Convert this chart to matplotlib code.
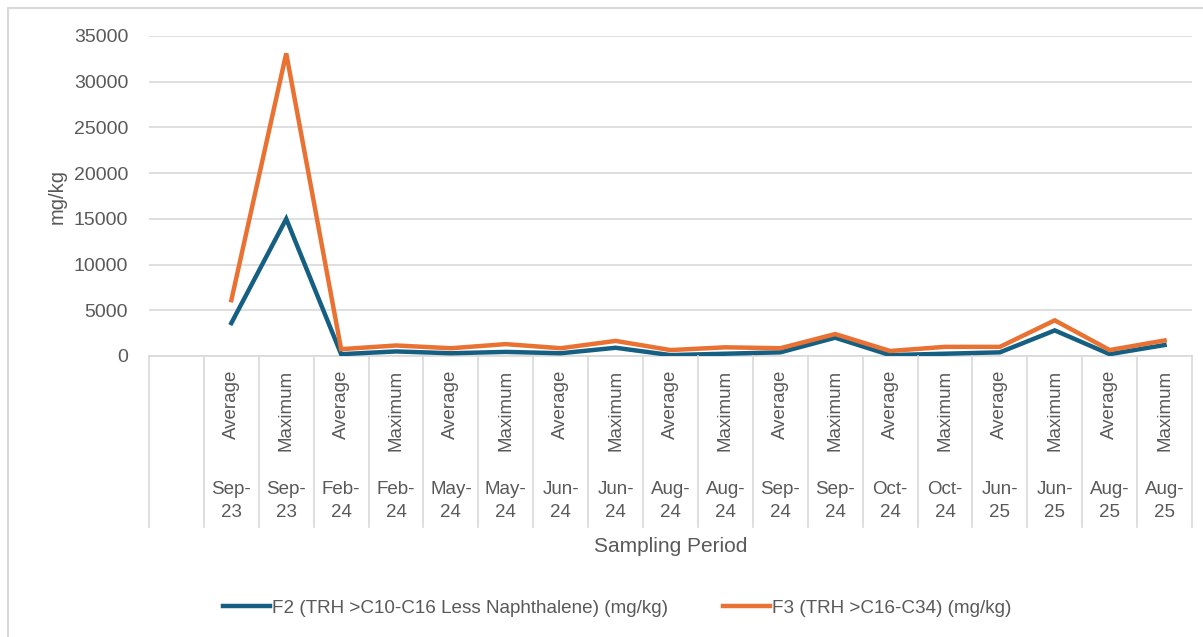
import matplotlib
matplotlib.use("Agg")
import matplotlib.pyplot as plt
from matplotlib.transforms import blended_transform_factory
from matplotlib.lines import Line2D
from matplotlib.patches import Rectangle

plt.rcParams['font.family'] = ['Liberation Sans', 'DejaVu Sans']

periods = ["", "Sep-\n23", "Sep-\n23", "Feb-\n24", "Feb-\n24", "May-\n24", "May-\n24",
           "Jun-\n24", "Jun-\n24", "Aug-\n24", "Aug-\n24", "Sep-\n24", "Sep-\n24",
           "Oct-\n24", "Oct-\n24", "Jun-\n25", "Jun-\n25", "Aug-\n25", "Aug-\n25"]
stats = ["", "Average", "Maximum", "Average", "Maximum", "Average", "Maximum",
         "Average", "Maximum", "Average", "Maximum", "Average", "Maximum",
         "Average", "Maximum", "Average", "Maximum", "Average", "Maximum"]

f2_values = [None, 3600, 15000, 200, 500, 300, 450, 300, 900, 100, 250,
             400, 2000, 100, 250, 400, 2800, 200, 1200]
f3_values = [None, 6100, 33100, 750, 1150, 850, 1300, 850, 1650, 650, 950,
             850, 2400, 550, 1000, 1000, 3900, 650, 1700]

f2_label = "F2 (TRH >C10-C16 Less Naphthalene) (mg/kg)"
f3_label = "F3 (TRH >C16-C34) (mg/kg)"
y_ticks = [0, 5000, 10000, 15000, 20000, 25000, 30000, 35000]

W, H = 1203, 637
fig = plt.figure(figsize=(W / 100, H / 100), dpi=100)

def fy(px):
    return 1 - px / H

ax_left, ax_right, ax_top, ax_bottom = 149, 1192, 36, 356
ax = fig.add_axes([ax_left / W, fy(ax_bottom), (ax_right - ax_left) / W, (ax_bottom - ax_top) / H])

text_color = "#595959"
grid_color = "#d9d9d9"
c_blue = "#156082"
c_orange = "#E97132"

n = len(stats)
xs = list(range(n))
x1 = [x for x, v in zip(xs, f2_values) if v is not None]
v2 = [v for v in f2_values if v is not None]
v3 = [v for v in f3_values if v is not None]
ax.plot(x1, v2, color=c_blue, lw=3.2, solid_joinstyle='miter', label=f2_label, zorder=3)
ax.plot(x1, v3, color=c_orange, lw=3.2, solid_joinstyle='miter', label=f3_label, zorder=3)

ax.set_xlim(-0.5, n - 0.5)
ax.set_ylim(0, 35000)
ax.set_yticks(y_ticks)
ax.set_yticklabels([str(t) for t in y_ticks])
ax.tick_params(axis='y', length=0, pad=15, labelsize=14, labelcolor=text_color)
ax.set_xticks([])
ax.grid(axis='y', color=grid_color, lw=1.2)
ax.set_axisbelow(True)
for s in ['left', 'right', 'top']:
    ax.spines[s].set_visible(False)
ax.spines['bottom'].set_color(grid_color)
ax.spines['bottom'].set_linewidth(1.2)

tr = blended_transform_factory(ax.transData, fig.transFigure)
for i in range(n + 1):
    fig.add_artist(Line2D([i - 0.5, i - 0.5], [fy(356), fy(527)], transform=tr,
                          color=grid_color, lw=1.2))
for i in range(n):
    if stats[i]:
        fig.text(i, fy(370), stats[i], transform=tr, rotation=90, ha='center', va='top',
                 fontsize=13.5, color=text_color)
    if periods[i]:
        fig.text(i, fy(501), periods[i], transform=tr, ha='center', va='center',
                 fontsize=13.5, color=text_color, linespacing=1.4)

fig.text((ax_left + ax_right) / 2 / W, fy(547), "Sampling Period", ha='center', va='center',
         fontsize=15, color=text_color)
fig.text(57 / W, fy(196), "mg/kg", rotation=90, ha='center', va='center',
         fontsize=14.5, color=text_color)

fig.legend(loc='center', bbox_to_anchor=(617 / W, fy(608)), ncol=2, frameon=False,
           fontsize=13.6, labelcolor=text_color, handlelength=2.5, handletextpad=0.1,
           columnspacing=2.9)

fig.add_artist(Rectangle((8 / W, -0.1), 1.2, fy(8) + 0.1, transform=fig.transFigure,
                         fill=False, edgecolor=grid_color, lw=1.5))

fig.savefig("out.png", dpi=100)
